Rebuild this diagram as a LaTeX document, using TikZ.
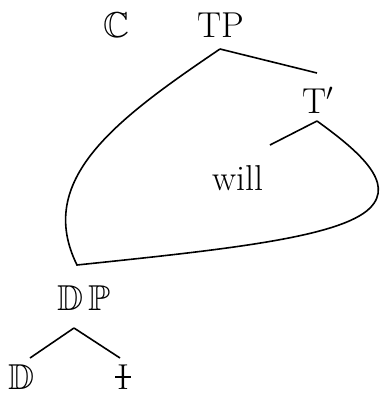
\documentclass[tikz,border=0pt]{standalone}
\usepackage{amssymb}
\newcommand\barI{\ooalign{I\cr\hidewidth\rule[0.3em]{0.42em}{0.06em}\hidewidth\cr}}
\tikzset{
  lbl/.style={font=\fontsize{18}{21}\selectfont, inner sep=0pt, anchor=base},
  branch/.style={line width=0.8pt},
}
\begin{document}
\begin{tikzpicture}[x=0.5pt,y=-0.5pt]
\useasboundingbox (0,0) rectangle (381,393);

% labels
\node[lbl] (C) at (117,37) {$\mathbb{C}$};
\node[lbl] (TP) at (221,37) {TP};
\node[lbl] (Tbar) at (318,113) {T$'$};
\node[lbl] (will) at (238,190) {will};
\node[lbl] (DP) at (84,310) {$\mathbb{D}\,\mathbb{P}$};
\node[lbl] (D) at (22,389) {$\mathbb{D}$};
\node[lbl] (I) at (123,389) {\barI};

% branch ends
\coordinate (TPfoot) at (220,49);
\coordinate (Tarm) at (317,73);
\coordinate (Tfoot) at (317,121);
\coordinate (willarm) at (270,145);
\coordinate (low) at (77,265);
\coordinate (DPfoot) at (74,328);
\coordinate (Darm) at (30,358);
\coordinate (Iarm) at (120,358);

\draw[branch] (TPfoot) -- (Tarm);
\draw[branch] (Tfoot) -- (willarm);
\draw[branch] (DPfoot) -- (Darm);
\draw[branch] (DPfoot) -- (Iarm);

% loop
\draw[branch] (TPfoot) .. controls (115,120) and (35,180) .. (low)
  .. controls (220,250) and (340,238) .. (370,208)
  .. controls (395,183) and (360,152) .. (Tfoot);
\end{tikzpicture}
\end{document}
